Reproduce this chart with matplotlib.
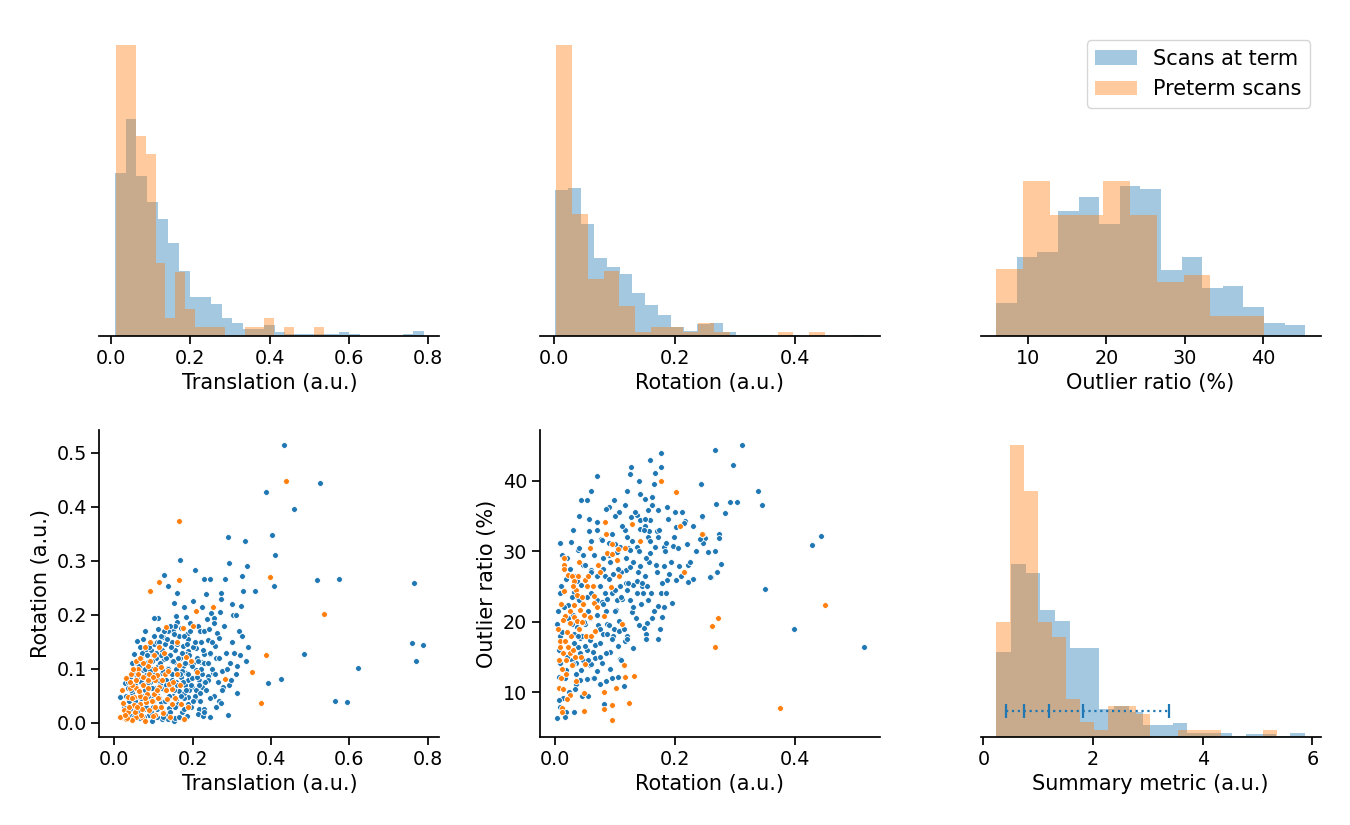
import numpy as np
import matplotlib
matplotlib.use("Agg")
import matplotlib.pyplot as plt

# ---------------- data ----------------
BLUE = "#1f77b4"
ORANGE = "#ff7f0e"
labels = ["Scans at term", "Preterm scans"]

# histogram counts (per bin) and bin ranges (lo, hi)
term_trans_counts = [91, 121, 89, 75, 65, 52, 36, 22, 22, 18, 10, 7, 4, 4, 6, 2, 1, 1, 1, 1, 1, 2, 1, 0, 0, 0, 0, 1, 3]
term_trans_range = (0.010, 0.789)
pre_trans_counts = [32, 32, 22, 20, 8, 2, 7, 3, 1, 1, 1, 0, 0, 1, 1, 2, 0, 1, 0, 0, 1]
pre_trans_range = (0.0126, 0.536)

term_rot_counts = [123, 125, 94, 66, 58, 52, 36, 26, 18, 8, 4, 10, 11, 3, 1, 1, 1, 0, 1, 0, 0, 0, 0, 1]
term_rot_range = (0.0017, 0.515)
pre_rot_counts = [67, 28, 13, 15, 7, 1, 2, 2, 1, 3, 1, 0, 0, 0, 1, 0, 1]
pre_rot_range = (0.0033, 0.4497)

term_out_counts = [18, 43, 46, 68, 76, 61, 82, 80, 36, 43, 26, 27, 16, 7, 6]
term_out_range = (5.95, 45.32)
pre_out_counts = [10, 23, 18, 18, 23, 18, 8, 9, 3, 3]
pre_out_range = (5.95, 40.08)

term_sum_counts = [54, 110, 104, 81, 74, 57, 57, 18, 20, 16, 8, 8, 9, 3, 3, 3, 1, 2, 2, 1, 3]
term_sum_range = (0.232, 5.868)
pre_sum_counts = [15, 38, 32, 15, 13, 5, 2, 1, 4, 4, 3, 0, 0, 1, 1, 1, 0, 0, 0, 1]
pre_sum_range = (0.232, 5.35)

# percentiles of the summary metric (scans at term)
term_sum_percentiles = [0.415, 0.741, 1.204, 1.826, 3.38]

# scatter: translation vs rotation (scans at term)
bl_term_trans = [0.434, 0.388, 0.525, 0.459, 0.403, 0.411, 0.408, 0.517, 0.574, 0.764, 0.483, 0.759, 0.789, 0.770, 0.623,
                 0.391, 0.425, 0.564, 0.595, 0.290, 0.334, 0.168, 0.293, 0.338, 0.206, 0.126, 0.230, 0.244, 0.282, 0.326,
                 0.138, 0.161, 0.234, 0.271, 0.329, 0.359, 0.273, 0.151, 0.324, 0.248, 0.304, 0.311, 0.112, 0.158, 0.183,
                 0.161, 0.192, 0.237, 0.254, 0.255, 0.213, 0.317, 0.079, 0.072, 0.059, 0.090, 0.111, 0.124, 0.149, 0.185,
                 0.219, 0.229, 0.241, 0.261, 0.268, 0.239, 0.256, 0.208, 0.187, 0.228, 0.245, 0.336, 0.200, 0.222, 0.252,
                 0.238, 0.215, 0.189, 0.229, 0.198, 0.209, 0.224, 0.278, 0.293, 0.314, 0.268, 0.273, 0.215, 0.230, 0.213,
                 0.227, 0.289, 0.206, 0.189, 0.158, 0.151, 0.137, 0.131, 0.097, 0.122, 0.015, 0.027, 0.044, 0.049, 0.102,
                 0.020, 0.025, 0.030, 0.032, 0.035, 0.038, 0.040, 0.042, 0.045, 0.048, 0.050, 0.052, 0.055, 0.056, 0.058,
                 0.060, 0.062, 0.064, 0.066, 0.068, 0.070, 0.072, 0.074, 0.076, 0.078, 0.080, 0.082, 0.084, 0.086, 0.088,
                 0.090, 0.092, 0.094, 0.096, 0.098, 0.100, 0.102, 0.104, 0.106, 0.108, 0.110, 0.112, 0.114, 0.116, 0.118,
                 0.120, 0.122, 0.124, 0.126, 0.128, 0.130, 0.132, 0.134, 0.136, 0.138, 0.140, 0.142, 0.144, 0.146, 0.148,
                 0.150, 0.152, 0.154, 0.156, 0.158, 0.160, 0.162, 0.164, 0.166, 0.168, 0.170, 0.172, 0.174, 0.176, 0.178,
                 0.180, 0.182, 0.184, 0.186, 0.188, 0.190, 0.192, 0.195, 0.198, 0.200, 0.205, 0.208, 0.212, 0.215, 0.218,
                 0.222, 0.225, 0.230, 0.235, 0.240, 0.245, 0.250, 0.255, 0.260, 0.265, 0.275, 0.285, 0.295, 0.300, 0.310,
                 0.320, 0.230, 0.245, 0.260, 0.118, 0.132, 0.146, 0.163, 0.172, 0.094, 0.108, 0.084, 0.066, 0.155, 0.177,
                 0.035, 0.040, 0.043, 0.047, 0.051, 0.053, 0.057, 0.061, 0.063, 0.067, 0.069, 0.071, 0.075, 0.077, 0.079,
                 0.081, 0.083, 0.085, 0.087, 0.089, 0.091, 0.093, 0.095, 0.097, 0.099, 0.101, 0.103, 0.105, 0.107, 0.109,
                 0.111, 0.113, 0.115, 0.117, 0.119, 0.121, 0.123, 0.125, 0.127, 0.129, 0.131, 0.133, 0.135, 0.137, 0.139,
                 0.141, 0.143, 0.145, 0.147, 0.149, 0.151, 0.153, 0.155, 0.157, 0.159, 0.161, 0.163, 0.165, 0.167, 0.169,
                 0.171, 0.173, 0.175, 0.177, 0.179, 0.181, 0.183, 0.185, 0.187, 0.189, 0.191, 0.193, 0.196, 0.199, 0.202,
                 0.206, 0.210, 0.214, 0.218, 0.222, 0.226, 0.232, 0.238, 0.244, 0.250, 0.258, 0.266, 0.276, 0.288, 0.298,
                 0.305, 0.312, 0.325, 0.340, 0.280, 0.300, 0.270, 0.225, 0.200, 0.178]
bl_term_rot = [0.514, 0.427, 0.443, 0.396, 0.348, 0.310, 0.254, 0.265, 0.267, 0.258, 0.128, 0.147, 0.144, 0.114, 0.101,
               0.073, 0.081, 0.041, 0.038, 0.343, 0.337, 0.301, 0.295, 0.290, 0.282, 0.274, 0.267, 0.267, 0.266, 0.272,
               0.254, 0.240, 0.239, 0.241, 0.244, 0.244, 0.229, 0.221, 0.216, 0.204, 0.199, 0.199, 0.193, 0.198, 0.195,
               0.187, 0.184, 0.192, 0.194, 0.185, 0.179, 0.170, 0.169, 0.155, 0.151, 0.149, 0.174, 0.159, 0.169, 0.164,
               0.169, 0.170, 0.174, 0.167, 0.157, 0.154, 0.142, 0.138, 0.133, 0.128, 0.128, 0.115, 0.111, 0.112, 0.092,
               0.086, 0.079, 0.080, 0.075, 0.067, 0.061, 0.066, 0.067, 0.070, 0.055, 0.041, 0.036, 0.026, 0.026, 0.017,
               0.013, 0.014, 0.046, 0.048, 0.043, 0.004, 0.007, 0.016, 0.004, 0.007, 0.047, 0.073, 0.110, 0.128, 0.194,
               0.010, 0.030, 0.050, 0.020, 0.065, 0.040, 0.085, 0.012, 0.055, 0.030, 0.095, 0.070, 0.045, 0.018, 0.110,
               0.060, 0.082, 0.035, 0.008, 0.120, 0.050, 0.098, 0.072, 0.025, 0.135, 0.088, 0.058, 0.040, 0.112, 0.015,
               0.075, 0.128, 0.048, 0.100, 0.030, 0.145, 0.065, 0.085, 0.120, 0.010, 0.052, 0.105, 0.138, 0.072, 0.038,
               0.160, 0.092, 0.020, 0.118, 0.060, 0.145, 0.080, 0.042, 0.102, 0.170, 0.028, 0.125, 0.068, 0.090, 0.150,
               0.050, 0.112, 0.008, 0.135, 0.075, 0.098, 0.035, 0.160, 0.058, 0.120, 0.085, 0.020, 0.142, 0.105, 0.045,
               0.070, 0.128, 0.092, 0.012, 0.155, 0.060, 0.110, 0.030, 0.082, 0.140, 0.050, 0.098, 0.120, 0.070, 0.040,
               0.150, 0.090, 0.110, 0.060, 0.080, 0.130, 0.100, 0.050, 0.120, 0.075, 0.095, 0.130, 0.110, 0.150, 0.090,
               0.125, 0.020, 0.010, 0.030, 0.125, 0.095, 0.115, 0.070, 0.095, 0.135, 0.150, 0.125, 0.140, 0.180, 0.055,
               0.075, 0.025, 0.060, 0.090, 0.010, 0.040, 0.085, 0.022, 0.105, 0.045, 0.075, 0.130, 0.010, 0.060, 0.100,
               0.030, 0.125, 0.075, 0.050, 0.140, 0.095, 0.020, 0.065, 0.115, 0.040, 0.160, 0.090, 0.055, 0.130, 0.025,
               0.080, 0.150, 0.045, 0.110, 0.065, 0.135, 0.010, 0.095, 0.170, 0.040, 0.120, 0.070, 0.155, 0.100, 0.050,
               0.180, 0.020, 0.140, 0.080, 0.115, 0.060, 0.165, 0.030, 0.100, 0.145, 0.070, 0.120, 0.010, 0.090, 0.175,
               0.050, 0.130, 0.075, 0.160, 0.025, 0.110, 0.060, 0.145, 0.090, 0.035, 0.125, 0.170, 0.070, 0.105, 0.040,
               0.150, 0.085, 0.115, 0.055, 0.100, 0.135, 0.075, 0.110, 0.045, 0.150, 0.090, 0.120, 0.060, 0.100, 0.080,
               0.130, 0.105, 0.160, 0.140, 0.180, 0.220, 0.205, 0.215, 0.225, 0.215]

# scatter: translation vs rotation (preterm scans)
bl_pre_trans = [0.439, 0.397, 0.534, 0.387, 0.375, 0.164, 0.165, 0.113, 0.092, 0.208, 0.251, 0.176, 0.131, 0.079, 0.127,
                0.183, 0.195, 0.165, 0.212, 0.282, 0.351, 0.189, 0.177, 0.171, 0.146, 0.135, 0.146, 0.119, 0.104, 0.105,
                0.071, 0.055, 0.044, 0.029, 0.015, 0.025, 0.021, 0.034, 0.030, 0.042, 0.061, 0.055, 0.073, 0.092, 0.118,
                0.105, 0.089, 0.073, 0.056, 0.039, 0.055, 0.072, 0.087, 0.103, 0.115, 0.100, 0.083, 0.066, 0.050, 0.066,
                0.081, 0.049, 0.036, 0.052, 0.070, 0.088, 0.020, 0.060, 0.045, 0.098, 0.128, 0.140, 0.033, 0.078, 0.110,
                0.028, 0.038, 0.045, 0.058, 0.062, 0.068, 0.078, 0.085, 0.095, 0.098, 0.108, 0.112, 0.122, 0.125, 0.132,
                0.138, 0.142, 0.150, 0.155, 0.160, 0.168, 0.048, 0.040, 0.065, 0.085, 0.100, 0.115, 0.090, 0.160, 0.200]
bl_pre_rot = [0.448, 0.270, 0.201, 0.126, 0.036, 0.373, 0.264, 0.260, 0.244, 0.207, 0.214, 0.176, 0.178, 0.140, 0.130,
              0.121, 0.115, 0.106, 0.093, 0.081, 0.093, 0.029, 0.007, 0.035, 0.035, 0.044, 0.063, 0.030, 0.030, 0.014,
              0.011, 0.011, 0.005, 0.007, 0.011, 0.024, 0.036, 0.048, 0.082, 0.091, 0.100, 0.115, 0.111, 0.114, 0.104,
              0.100, 0.091, 0.084, 0.079, 0.064, 0.064, 0.069, 0.079, 0.079, 0.066, 0.054, 0.054, 0.049, 0.048, 0.035,
              0.039, 0.033, 0.020, 0.020, 0.026, 0.024, 0.060, 0.090, 0.070, 0.012, 0.090, 0.072, 0.008, 0.003, 0.088,
              0.015, 0.030, 0.045, 0.030, 0.058, 0.015, 0.045, 0.065, 0.040, 0.085, 0.060, 0.045, 0.080, 0.018, 0.060,
              0.095, 0.010, 0.075, 0.045, 0.090, 0.070, 0.100, 0.075, 0.120, 0.105, 0.125, 0.140, 0.150, 0.150, 0.180]

# scatter: rotation vs outlier ratio (scans at term)
bm_term_rot = [0.311, 0.267, 0.296, 0.243, 0.338, 0.268, 0.291, 0.302, 0.345, 0.283, 0.245, 0.273, 0.250, 0.273, 0.246,
               0.443, 0.428, 0.255, 0.266, 0.276, 0.269, 0.260, 0.349, 0.397, 0.514,
               0.176, 0.158, 0.176, 0.126, 0.125, 0.166, 0.165, 0.069, 0.243, 0.141, 0.149, 0.161, 0.044, 0.053, 0.098,
               0.116, 0.089, 0.107, 0.126, 0.136, 0.154, 0.171, 0.187, 0.199, 0.211, 0.057, 0.069, 0.142, 0.158, 0.217,
               0.244, 0.057, 0.077, 0.117, 0.142, 0.150, 0.156, 0.169, 0.202, 0.241, 0.009, 0.026, 0.038, 0.046, 0.078,
               0.089, 0.108, 0.122, 0.136, 0.154, 0.171, 0.181, 0.185, 0.196, 0.158, 0.167, 0.157, 0.125, 0.103, 0.092,
               0.047, 0.060, 0.069, 0.083, 0.096, 0.118, 0.124, 0.142, 0.181, 0.189, 0.206, 0.221, 0.229, 0.222, 0.202,
               0.187, 0.258, 0.031, 0.036, 0.044, 0.075, 0.083, 0.094, 0.108, 0.118, 0.129, 0.136, 0.144, 0.153, 0.119,
               0.136, 0.147, 0.176, 0.031, 0.036, 0.022, 0.053, 0.069, 0.078, 0.086, 0.103, 0.111, 0.128, 0.102, 0.172,
               0.182, 0.194, 0.178, 0.161, 0.153, 0.148, 0.152, 0.152, 0.171, 0.004, 0.022, 0.029, 0.036, 0.050, 0.058,
               0.072, 0.086, 0.075, 0.079, 0.086, 0.098, 0.107, 0.096, 0.106, 0.119, 0.117, 0.129, 0.092, 0.108, 0.091,
               0.105, 0.115, 0.074, 0.064, 0.053, 0.042, 0.035, 0.033, 0.014, 0.006, 0.009, 0.018, 0.004, 0.017, 0.032,
               0.081, 0.044, 0.035, 0.047, 0.058, 0.067, 0.078, 0.064, 0.053, 0.039, 0.031, 0.042, 0.058, 0.067, 0.031,
               0.008, 0.006, 0.008, 0.006, 0.019, 0.028,
               0.010, 0.015, 0.020, 0.005, 0.012, 0.025, 0.030, 0.040, 0.045, 0.055, 0.060, 0.065, 0.070, 0.050, 0.020,
               0.035, 0.045, 0.060, 0.075, 0.085, 0.090, 0.100, 0.110, 0.080, 0.095, 0.120, 0.130, 0.140, 0.150, 0.160,
               0.170, 0.125, 0.135, 0.115, 0.105, 0.085, 0.070, 0.095, 0.030, 0.040,
               0.040, 0.050, 0.060, 0.070, 0.080, 0.090, 0.100, 0.105, 0.112, 0.118, 0.122, 0.128, 0.133, 0.138, 0.143,
               0.148, 0.152, 0.158, 0.162, 0.168, 0.173, 0.178, 0.183, 0.188, 0.193, 0.198, 0.205, 0.210, 0.215, 0.220,
               0.225, 0.230, 0.235, 0.100, 0.110, 0.120, 0.130, 0.140, 0.145, 0.155, 0.165, 0.175, 0.185, 0.060, 0.070,
               0.080, 0.090, 0.095, 0.075, 0.065, 0.055, 0.048, 0.038, 0.028, 0.018, 0.012, 0.008, 0.016, 0.024, 0.030,
               0.042, 0.055, 0.085, 0.110, 0.100, 0.085, 0.060, 0.120, 0.140, 0.150]
bm_term_out = [45.1, 44.4, 42.2, 39.5, 38.5, 36.7, 37.0, 37.0, 36.5, 35.4, 34.9, 32.5, 31.8, 31.8, 31.2,
               32.1, 30.9, 29.9, 30.0, 28.2, 27.1, 26.3, 24.6, 18.9, 16.4,
               44.0, 43.0, 41.9, 42.0, 41.0, 41.1, 39.6, 40.7, 39.5, 38.1, 37.4, 37.7, 37.3, 37.2, 37.2,
               36.6, 36.2, 35.5, 34.8, 35.2, 35.9, 35.9, 36.2, 35.6, 35.6, 34.6, 34.1, 34.4, 34.4, 34.3,
               35.0, 32.8, 31.7, 33.0, 33.2, 33.5, 32.8, 32.9, 33.4, 31.7, 31.2, 31.3, 30.2, 29.4, 31.6,
               31.1, 30.6, 30.5, 30.6, 32.0, 32.0, 30.6, 31.1, 30.7, 29.7, 30.6, 28.4, 30.2, 29.9, 28.5,
               28.0, 27.3, 26.4, 26.4, 26.8, 27.3, 27.7, 27.9, 27.9, 26.8, 27.9, 28.0, 26.1, 25.6, 25.9,
               25.9, 26.3, 26.4, 25.8, 25.2, 25.1, 24.0, 24.1, 25.0, 25.5, 25.2, 25.7, 25.0, 25.0, 24.5,
               24.1, 24.0, 24.1, 24.2, 23.5, 22.3, 23.5, 23.1, 22.8, 23.2, 23.1, 23.2, 21.3, 21.6, 22.2,
               22.0, 22.7, 20.7, 20.5, 19.8, 19.1, 18.3, 17.5, 17.5, 19.7, 20.5, 19.7, 19.3, 19.7, 20.5,
               19.5, 19.7, 19.0, 18.2, 18.3, 19.0, 20.1, 17.9, 18.6, 18.0, 17.3, 16.2, 15.7, 14.7, 13.2,
               12.2, 10.9, 11.2, 12.0, 11.8, 11.7, 11.2, 10.4, 9.1, 8.9, 7.9, 7.1, 6.3, 6.5, 7.2,
               8.3, 13.1, 14.1, 14.5, 13.8, 14.8, 14.1, 15.7, 16.0, 16.4, 16.9, 17.6, 17.4, 16.7, 18.3,
               17.9, 16.0, 14.1, 12.2, 13.1, 14.5,
               25.0, 22.0, 29.0, 21.5, 18.5, 27.5, 21.0, 23.0, 18.0, 21.5, 27.0, 29.5, 21.0, 16.5, 15.0,
               12.5, 9.5, 14.0, 17.0, 21.5, 26.0, 24.5, 27.0, 29.0, 32.5, 32.0, 28.5, 30.0, 26.5, 24.0,
               27.0, 23.0, 20.5, 19.0, 16.5, 15.5, 13.0, 12.0, 33.0, 35.0,
               30.5, 28.0, 31.5, 33.0, 27.5, 29.5, 31.0, 27.5, 33.5, 29.0, 25.5, 31.5, 35.5, 27.0, 22.5,
               33.0, 29.0, 31.5, 36.5, 28.0, 33.0, 25.5, 30.0, 34.5, 28.5, 32.0, 30.5, 26.5, 34.0, 31.0,
               28.5, 33.5, 30.0, 21.5, 23.5, 17.5, 22.0, 19.5, 25.5, 23.0, 21.5, 19.0, 24.0, 24.0, 26.5,
               22.5, 19.5, 17.5, 15.0, 12.0, 14.5, 20.0, 18.0, 23.5, 26.0, 29.5, 24.0, 12.0, 10.0, 14.0,
               15.5, 9.5, 11.5, 14.5, 35.0, 36.0, 38.5, 38.5, 40.0, 34.5]

# scatter: rotation vs outlier ratio (preterm scans)
bm_pre_rot = [0.246, 0.449, 0.272, 0.261, 0.266, 0.374,
              0.177, 0.202, 0.208, 0.245, 0.214, 0.083, 0.128, 0.084, 0.094, 0.141, 0.059, 0.104, 0.117, 0.086,
              0.094, 0.103, 0.015, 0.015, 0.072, 0.107, 0.021, 0.029, 0.038, 0.031, 0.050, 0.054, 0.064, 0.093,
              0.015, 0.035, 0.036, 0.065, 0.065, 0.047, 0.032, 0.041, 0.048, 0.031, 0.017, 0.013, 0.025, 0.036,
              0.045, 0.058, 0.082, 0.111, 0.067, 0.051, 0.026, 0.008, 0.017, 0.009, 0.022, 0.014, 0.025, 0.033,
              0.044, 0.007, 0.018, 0.028, 0.011, 0.019, 0.007, 0.013, 0.025, 0.011, 0.012, 0.114, 0.132, 0.117,
              0.102, 0.081, 0.049, 0.095, 0.081, 0.123, 0.049, 0.094,
              0.010, 0.020, 0.025, 0.030, 0.040, 0.045, 0.055, 0.060, 0.070, 0.075, 0.010, 0.020, 0.030, 0.035,
              0.050, 0.005, 0.015, 0.040]
bm_pre_out = [32.4, 22.4, 20.5, 19.4, 16.4, 7.7,
              40.0, 38.4, 33.5, 32.4, 27.1, 34.2, 33.9, 32.4, 31.0, 31.5, 30.5, 30.3, 30.5, 29.8,
              29.6, 28.8, 28.0, 27.5, 28.0, 26.4, 26.6, 26.5, 26.5, 25.8, 25.9, 25.1, 25.0, 24.9,
              24.4, 24.5, 23.8, 23.6, 22.7, 22.5, 22.4, 21.6, 20.9, 20.6, 20.8, 20.2, 19.8, 20.1,
              20.0, 20.6, 20.8, 19.7, 18.7, 18.0, 17.9, 17.3, 17.3, 16.4, 16.4, 15.6, 15.6, 15.0,
              14.9, 14.6, 14.5, 13.8, 13.2, 12.5, 10.6, 10.4, 9.6, 7.8, 7.2, 13.9, 12.3, 12.2,
              10.5, 10.0, 9.9, 8.2, 7.6, 8.4, 7.3, 6.0,
              22.5, 18.5, 21.5, 25.0, 19.0, 23.5, 26.5, 18.0, 22.0, 27.0, 12.0, 9.0, 16.0, 11.5,
              14.0, 19.0, 29.0, 28.5]

# ---------------- figure ----------------
plt.rcParams["font.family"] = "DejaVu Sans"
TICK_FS = 13.75
LABEL_FS = 15
LEGEND_FS = 15

fig = plt.figure(figsize=(13.5, 8.25), dpi=100)
col_left = [0.0737, 0.3997, 0.7264]
col_w = 0.2518
top_b, top_h = 0.5927, 0.3709
bot_b, bot_h = 0.1063, 0.3725

ax_tl = fig.add_axes([col_left[0], top_b, col_w, top_h])
ax_tm = fig.add_axes([col_left[1], top_b, col_w, top_h])
ax_tr = fig.add_axes([col_left[2], top_b, col_w, top_h])
ax_bl = fig.add_axes([col_left[0], bot_b, col_w, bot_h])
ax_bm = fig.add_axes([col_left[1], bot_b, col_w, bot_h])
ax_br = fig.add_axes([col_left[2], bot_b, col_w, bot_h])


def draw_hist(ax, counts, rng, color, label=None):
    edges = np.linspace(rng[0], rng[1], len(counts) + 1)
    centers = 0.5 * (edges[:-1] + edges[1:])
    vals, _, _ = ax.hist(centers, bins=edges, weights=counts, density=True,
                         color=color, alpha=0.4, label=label)
    return vals.max()


def style(ax, hist=True):
    ax.spines["top"].set_visible(False)
    ax.spines["right"].set_visible(False)
    for sp in ax.spines.values():
        sp.set_linewidth(1.25)
    if hist:
        ax.spines["left"].set_visible(False)
        ax.set_yticks([])
    ax.tick_params(axis="both", labelsize=TICK_FS, length=5.5, width=1.25, direction="out")


# top-left: translation
draw_hist(ax_tl, term_trans_counts, term_trans_range, BLUE)
draw_hist(ax_tl, pre_trans_counts, pre_trans_range, ORANGE)
ax_tl.set_xlim(-0.029, 0.828)
ax_tl.set_xticks([0.0, 0.2, 0.4, 0.6, 0.8])
ax_tl.set_xlabel("Translation (a.u.)", fontsize=LABEL_FS)
style(ax_tl)

# top-middle: rotation
draw_hist(ax_tm, term_rot_counts, term_rot_range, BLUE)
draw_hist(ax_tm, pre_rot_counts, pre_rot_range, ORANGE)
ax_tm.set_xlim(-0.024, 0.540)
ax_tm.set_xticks([0.0, 0.2, 0.4])
ax_tm.set_xlabel("Rotation (a.u.)", fontsize=LABEL_FS)
style(ax_tm)

# top-right: outlier ratio
m1 = draw_hist(ax_tr, term_out_counts, term_out_range, BLUE, labels[0])
m2 = draw_hist(ax_tr, pre_out_counts, pre_out_range, ORANGE, labels[1])
ax_tr.set_ylim(0, max(m1, m2) * 1.974)
ax_tr.set_xlim(3.98, 47.29)
ax_tr.set_xticks([10, 20, 30, 40])
ax_tr.set_xlabel("Outlier ratio (%)", fontsize=LABEL_FS)
style(ax_tr)
ax_tr.legend(loc="upper right", fontsize=LEGEND_FS)

# bottom-left: translation vs rotation
ax_bl.scatter(bl_term_trans, bl_term_rot, s=18, color=BLUE, edgecolors="white", linewidths=0.6)
ax_bl.scatter(bl_pre_trans, bl_pre_rot, s=18, color=ORANGE, edgecolors="white", linewidths=0.6)
ax_bl.set_xlim(-0.038, 0.830)
ax_bl.set_ylim(-0.027, 0.542)
ax_bl.set_xticks([0.0, 0.2, 0.4, 0.6, 0.8])
ax_bl.set_yticks([0.0, 0.1, 0.2, 0.3, 0.4, 0.5])
ax_bl.set_xlabel("Translation (a.u.)", fontsize=LABEL_FS)
ax_bl.set_ylabel("Rotation (a.u.)", fontsize=LABEL_FS)
style(ax_bl, hist=False)

# bottom-middle: rotation vs outlier ratio
ax_bm.scatter(bm_term_rot, bm_term_out, s=18, color=BLUE, edgecolors="white", linewidths=0.6)
ax_bm.scatter(bm_pre_rot, bm_pre_out, s=18, color=ORANGE, edgecolors="white", linewidths=0.6)
ax_bm.set_xlim(-0.0257, 0.540)
ax_bm.set_ylim(3.57, 47.2)
ax_bm.set_xticks([0.0, 0.2, 0.4])
ax_bm.set_yticks([10, 20, 30, 40])
ax_bm.set_xlabel("Rotation (a.u.)", fontsize=LABEL_FS)
ax_bm.set_ylabel("Outlier ratio (%)", fontsize=LABEL_FS)
style(ax_bm, hist=False)

# bottom-right: summary metric
draw_hist(ax_br, term_sum_counts, term_sum_range, BLUE)
draw_hist(ax_br, pre_sum_counts, pre_sum_range, ORANGE)
ax_br.plot(term_sum_percentiles, [0.0856] * len(term_sum_percentiles),
           transform=ax_br.get_xaxis_transform(), color=BLUE, linestyle=":",
           linewidth=1.6, marker="|", markersize=10, markeredgewidth=1.6)
ax_br.set_xlim(-0.05, 6.15)
ax_br.set_xticks([0, 2, 4, 6])
ax_br.set_xlabel("Summary metric (a.u.)", fontsize=LABEL_FS)
style(ax_br)

fig.savefig("out.png", dpi=100)
